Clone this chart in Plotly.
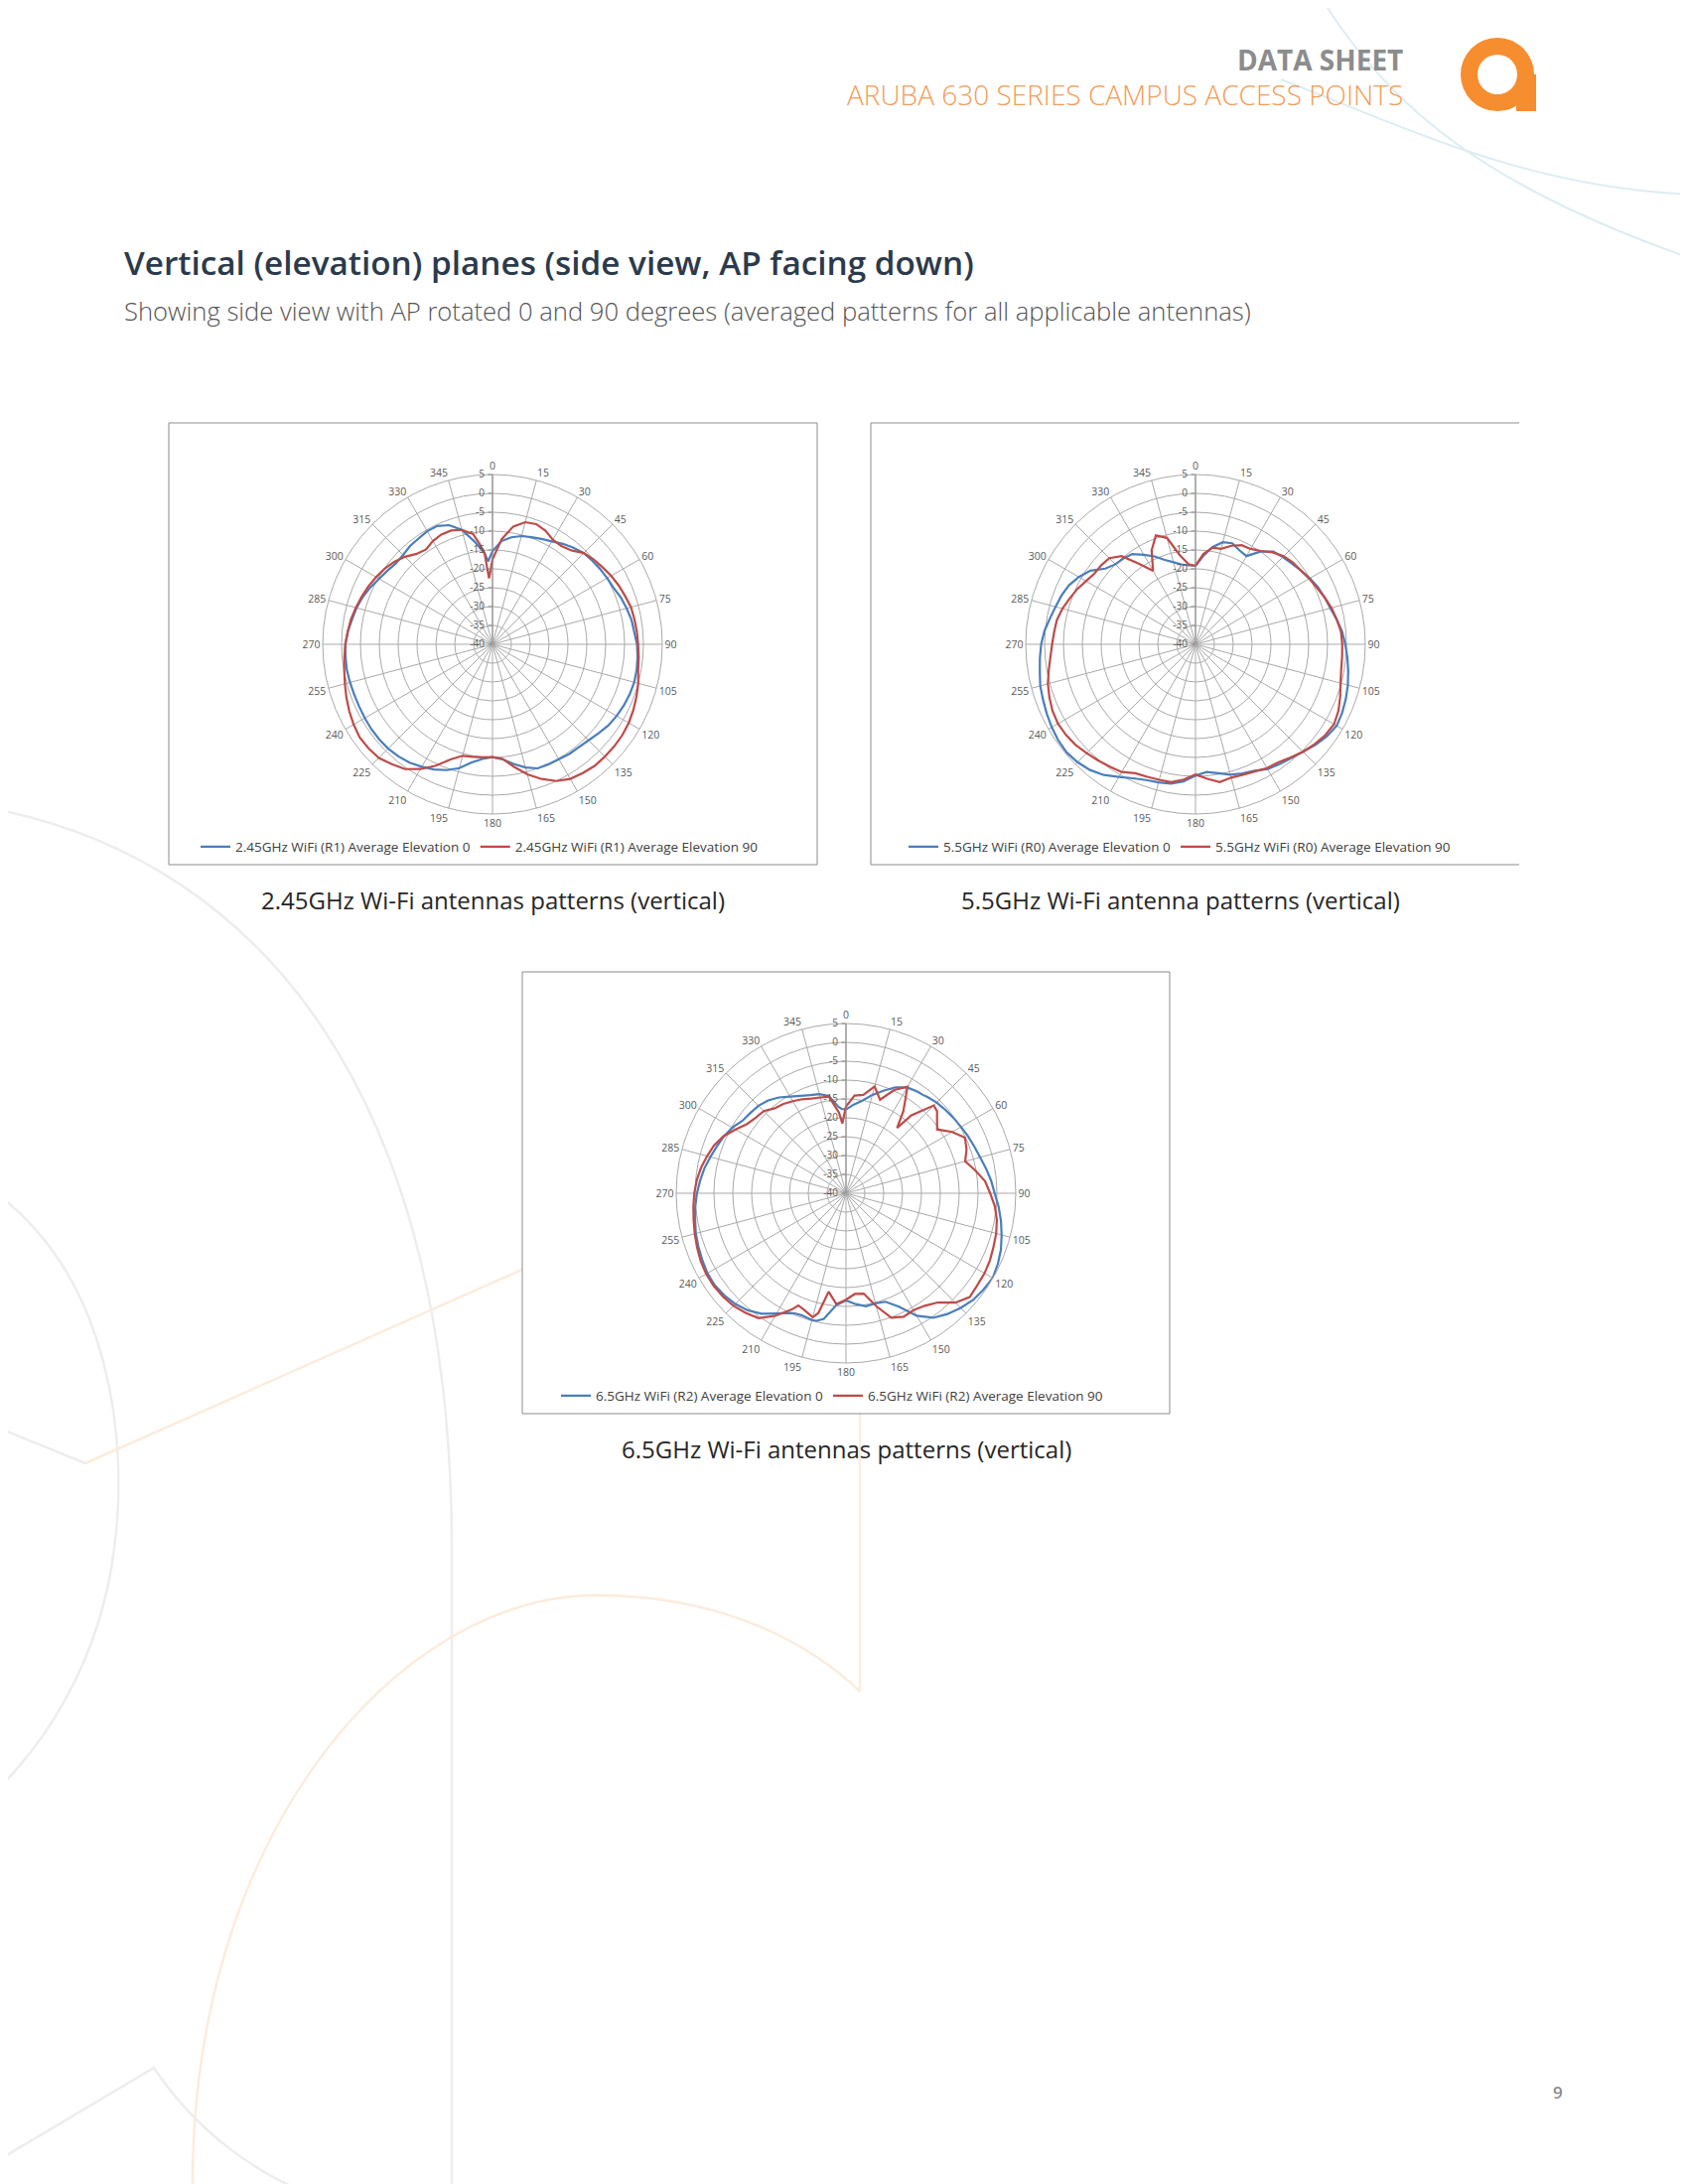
import plotly.graph_objects as go

# ---------------- data (dB vs angle) ----------------
ANGLE_TICKS = [0, 15, 30, 45, 60, 75, 90, 105, 120, 135, 150, 165, 180,
               195, 210, 225, 240, 255, 270, 285, 300, 315, 330, 345]
RADIAL_TICKS = [-40, -35, -30, -25, -20, -15, -10, -5, 0, 5]

# 2.45 GHz
theta_245 = [0, 5, 10, 15, 20, 25, 30, 35, 40, 45, 50, 55, 60, 65, 70, 75, 80, 85,
             90, 95, 100, 105, 110, 115, 120, 125, 130, 135, 140, 145, 150, 155, 160, 165,
             170, 175, 180, 185, 190, 195, 200, 205, 210, 215, 220, 225, 230, 235, 240, 245,
             250, 255, 260, 265, 270, 275, 280, 285, 290, 295, 300, 305, 310, 315, 320, 325,
             330, 335, 340, 345, 350, 353, 355, 357]
r_245_e0 = [-15.3, -12.5, -11.2, -10.3, -9.8, -9.2, -8.5, -7.5, -6.6, -5.8, -5.5, -5.2, -4.9, -4.6,
            -3.8, -3.2, -2.6, -2.3, -1.7, -1.4, -1.2, -1.1, -1.3, -1.6, -2.0, -2.5, -3.3, -4.0,
            -4.4, -4.5, -4.8, -4.9, -5.0, -6.2, -7.8, -9.4, -10.1, -9.5, -8.2, -6.0, -4.5, -3.4,
            -2.5, -1.7, -1.2, -0.9, -0.8, -0.8, -0.9, -1.0, -1.0, -0.9, -0.8, -0.9, -1.0, -1.5,
            -2.2, -2.7, -3.4, -4.3, -5.3, -6.0, -6.6, -6.5, -6.0, -5.8, -5.4, -5.4, -6.4, -8.6,
            -12.3, -14.5, -15.8, -18.0]
r_245_e90 = [-17.5, -12.0, -8.3, -6.5, -6.1, -6.8, -8.0, -8.2, -7.5, -5.8, -5.0, -4.4, -3.7, -3.1,
             -2.6, -2.0, -1.8, -1.6, -1.4, -1.1, -0.8, 0.0, 0.6, 1.2, 1.7, 2.0, 2.1, 2.1,
             2.1, 1.7, 1.2, 0.0, -2.0, -4.3, -7.0, -9.5, -10.1, -9.9, -9.7, -9.4, -7.5, -4.5,
             -1.8, 0.4, 1.5, 2.6, 2.9, 3.0, 2.5, 1.9, 1.2, 0.5, -0.1, -0.6, -1.0, -1.5,
             -1.9, -2.5, -3.1, -3.7, -4.4, -5.1, -6.0, -7.2, -8.7, -9.3, -8.4, -7.9, -7.9, -8.6,
             -10.3, -13.5, -15.8, -22.5]

# 5.5 GHz
theta_55 = [0, 5, 10, 15, 20, 25, 30, 35, 40, 45, 50, 55, 60, 65, 70, 75, 80, 85,
            90, 95, 100, 105, 110, 115, 120, 125, 130, 135, 140, 145, 150, 155, 160, 165,
            170, 175, 180, 185, 190, 195, 200, 205, 210, 215, 220, 225, 230, 235, 240, 245,
            250, 255, 260, 265, 270, 275, 280, 285, 290, 295, 300, 305, 310, 315, 320, 325,
            330, 335, 340, 345, 350, 355]
r_55_e0 = [-19.2, -16.5, -13.8, -12.0, -11.5, -12.5, -13.0, -10.0, -7.9, -7.3, -6.7, -5.9, -5.0, -4.2,
           -3.6, -3.0, -2.0, -1.0, -0.3, 0.4, 1.1, 1.8, 2.4, 2.9, 3.2, 2.5, 1.5, 0.3,
           -0.6, -1.2, -1.8, -3.0, -3.6, -4.2, -5.3, -6.0, -5.2, -3.5, -2.5, -2.1, -1.7, -0.8,
           0.6, 2.3, 3.5, 4.2, 4.6, 4.4, 4.0, 3.5, 3.0, 2.6, 1.9, 1.4, 0.9, 0.2,
           -0.8, -1.6, -2.2, -3.0, -4.3, -6.0, -8.8, -10.0, -10.3, -10.8, -12.6, -14.3, -16.2, -17.5,
           -18.5, -19.0]
r_55_e90 = [-19.2, -16.0, -14.0, -13.8, -12.2, -11.0, -10.8, -9.8, -8.2, -7.0, -6.3, -5.9, -5.2, -4.5,
            -3.6, -2.7, -2.0, -1.3, -1.1, -1.0, -0.8, -0.2, 0.8, 1.8, 2.4, 2.0, 1.2, 0.3,
            -0.8, -1.8, -2.1, -2.8, -3.2, -3.4, -2.9, -4.2, -5.5, -4.0, -2.9, -2.8, -2.6, -2.3,
            -0.9, -0.4, 0.2, 0.8, 1.5, 1.9, 2.1, 1.8, 1.2, 0.5, -0.5, -1.4, -2.0, -2.4,
            -2.7, -3.5, -4.5, -5.4, -6.5, -7.3, -7.4, -7.7, -9.5, -14.0, -17.5, -12.5, -9.3, -10.8,
            -16.0, -18.7]

# 6.5 GHz
theta_65 = [0, 5, 10, 15, 20, 25, 30, 35, 38, 40, 45, 48, 50, 55, 60, 65, 70, 75, 80, 85,
            90, 95, 100, 105, 110, 115, 120, 125, 130, 135, 140, 145, 150, 155, 160, 165,
            170, 175, 180, 185, 190, 193, 195, 200, 203, 205, 210, 215, 220, 225, 230, 235, 240, 245,
            250, 255, 260, 265, 270, 275, 280, 285, 290, 295, 300, 305, 310, 315, 320, 325,
            330, 335, 340, 345, 350, 355, 357]
r_65_e0 = [-17.8, -16.4, -15.1, -13.0, -11.1, -9.0, -7.6, -7.1, -6.9, -6.6, -6.0, -5.8, -5.6, -5.2,
           -4.8, -4.3, -3.8, -3.2, -2.3, -1.4, -0.6, 0.6, 1.7, 2.7, 3.7, 4.4, 4.9, 4.5,
           4.0, 3.0, 1.8, 0.3, -2.5, -6.8, -9.4, -9.8, -9.6, -10.5, -11.6, -10.2, -6.2, -5.3,
           -5.2, -5.6, -5.4, -5.0, -3.2, -1.0, 0.5, 1.5, 2.1, 2.5, 2.4, 2.0, 1.6, 1.2,
           0.6, 0.1, -0.5, -1.2, -1.9, -2.8, -3.6, -4.3, -5.2, -6.5, -6.9, -7.2, -7.9, -9.0,
           -10.4, -11.5, -12.3, -12.8, -13.8, -17.0, -17.6]
r_65_e90 = [-17.0, -14.0, -13.5, -10.7, -13.6, -9.8, -7.4, -13.5, -18.0, -13.0, -7.1, -7.5, -8.5, -10.5,
            -7.5, -5.2, -6.0, -7.3, -5.2, -3.0, -1.8, -0.4, 0.6, 1.2, 1.6, 2.1, 2.4, 2.5,
            2.8, 1.0, -2.2, -3.6, -4.2, -3.9, -4.9, -9.0, -13.0, -13.2, -11.8, -10.5, -13.5, -7.4,
            -6.0, -7.2, -7.7, -6.0, -2.5, 0.4, 1.4, 2.2, 2.6, 2.8, 2.8, 2.5, 2.0, 1.5,
            1.0, 0.6, 0.2, -0.3, -1.0, -1.9, -2.8, -4.2, -6.2, -8.0, -8.8, -9.2, -10.6, -11.1,
            -11.8, -12.5, -13.3, -13.7, -14.0, -18.5, -21.5]

LEG_245 = ["2.45GHz WiFi (R1) Average Elevation 0", "2.45GHz WiFi (R1) Average Elevation 90"]
LEG_55 = ["5.5GHz WiFi (R0) Average Elevation 0", "5.5GHz WiFi (R0) Average Elevation 90"]
LEG_65 = ["6.5GHz WiFi (R2) Average Elevation 0", "6.5GHz WiFi (R2) Average Elevation 90"]
CAPTIONS = ["2.45GHz Wi-Fi antennas patterns (vertical)",
            "5.5GHz Wi-Fi antenna patterns (vertical)",
            "6.5GHz Wi-Fi antennas patterns (vertical)"]

# ---------------- page geometry (pixels) ----------------
W, H = 1700, 2200
OFF = 8  # page body margin
BLUE, RED = "#4a7ebb", "#be4b48"
GRID = "#a9a9a9"
FONT = "Open Sans"
R_PX = 171


def px(x):
    return (x - OFF) / W


def py(y):
    return 1 - (y - OFF) / H


def P(x, y):
    return f"{px(x):.5f},{py(y):.5f}"


charts = [
    dict(cx=496, cy=649, theta=theta_245, r0=r_245_e0, r90=r_245_e90, names=LEG_245,
         legend="legend", lx=483, ly=853),
    dict(cx=1204, cy=649, theta=theta_55, r0=r_55_e0, r90=r_55_e90, names=LEG_55,
         legend="legend2", lx=1188, ly=853),
    dict(cx=852, cy=1202, theta=theta_65, r0=r_65_e0, r90=r_65_e90, names=LEG_65,
         legend="legend3", lx=838, ly=1406),
]

fig = go.Figure()
layout = {}
for i, c in enumerate(charts):
    sub = "polar" if i == 0 else f"polar{i+1}"
    th = c["theta"] + c["theta"][:1]
    for rr, col, nm in ((c["r0"], BLUE, c["names"][0]), (c["r90"], RED, c["names"][1])):
        fig.add_trace(go.Scatterpolar(
            r=rr + rr[:1], theta=th, mode="lines", name=nm, subplot=sub,
            line=dict(color=col, width=2.2), legend=c["legend"], hoverinfo="skip"))
    layout[sub] = dict(
        domain=dict(x=[px(c["cx"] - R_PX), px(c["cx"] + R_PX)],
                    y=[py(c["cy"] + R_PX), py(c["cy"] - R_PX)]),
        bgcolor="white",
        angularaxis=dict(rotation=90, direction="clockwise", tickmode="array",
                         tickvals=ANGLE_TICKS, ticktext=[str(a) for a in ANGLE_TICKS],
                         showgrid=True, gridcolor=GRID, gridwidth=1,
                         showline=True, linecolor=GRID, linewidth=1, ticks="",
                         tickfont=dict(family=FONT, size=10.5, color="#595959")),
        radialaxis=dict(range=[-40, 5], tickmode="array", tickvals=RADIAL_TICKS,
                        ticktext=[str(v) for v in RADIAL_TICKS], angle=90, tickangle=90,
                        side="counterclockwise", showgrid=True, gridcolor=GRID, gridwidth=1,
                        showline=True, linecolor="#8a8a8a", linewidth=1,
                        ticks="outside", ticklen=4, tickcolor="#8a8a8a",
                        tickfont=dict(family=FONT, size=10, color="#595959")),
    )
    layout[c["legend"]] = dict(orientation="h", x=px(c["lx"]), xanchor="center",
                               y=py(c["ly"]), yanchor="middle", bgcolor="rgba(0,0,0,0)",
                               font=dict(family=FONT, size=13.5, color="#404040"),
                               itemwidth=30, tracegroupgap=0)

shapes = []
DECO_GREY = "#ededed"
DECO_ORANGE = "#fcecdc"
DECO_BLUE = "#ddedf2"


def path(d, color, width):
    shapes.append(dict(type="path", xref="paper", yref="paper", path=d,
                       line=dict(color=color, width=width), layer="below"))


# faint background decoration
path(f"M{P(1332,0)} C{P(1400,110)} {P(1500,190)} {P(1708,262)}", DECO_BLUE, 2)
path(f"M{P(1290,80)} C{P(1420,130)} {P(1540,190)} {P(1708,196)}", DECO_BLUE, 2)
path(f"M{P(0,816)} C{P(260,870)} {P(455,1100)} {P(455,1560)} L{P(455,2210)}", DECO_GREY, 2.5)
path(f"M{P(0,1205)} C{P(110,1290)} {P(130,1450)} {P(115,1560)} C{P(100,1680)} {P(40,1760)} {P(0,1800)}",
     DECO_GREY, 2.5)
path(f"M{P(0,1439)} L{P(86,1474)}", DECO_GREY, 2.5)
path(f"M{P(86,1474)} L{P(528,1278)}", DECO_ORANGE, 2.5)
path(f"M{P(866,1424)} L{P(866,1704)}", DECO_ORANGE, 2.5)
path(f"M{P(194,2210)} C{P(190,1850)} {P(400,1607)} {P(601,1607)} "
     f"C{P(720,1607)} {P(810,1650)} {P(866,1704)}", DECO_ORANGE, 2.5)
path(f"M{P(0,2175)} L{P(155,2083)} C{P(200,2150)} {P(260,2190)} {P(312,2210)}", DECO_GREY, 2.5)

# chart frames (white fill)
for (x0, y0, x1, y1) in [(170, 426, 823, 871), (526, 979, 1178, 1424)]:
    shapes.append(dict(type="rect", xref="paper", yref="paper", x0=px(x0), x1=px(x1),
                       y0=py(y1), y1=py(y0), line=dict(color="#8c8c8c", width=1),
                       fillcolor="white", layer="below"))
shapes.append(dict(type="rect", xref="paper", yref="paper", x0=px(877), x1=px(1530),
                   y0=py(871), y1=py(426), line=dict(width=0), fillcolor="white", layer="below"))
path(f"M{P(1530,426)} L{P(877,426)} L{P(877,871)} L{P(1530,871)}", "#8c8c8c", 1)

# logo
ORANGE = "#f68d2e"
shapes.append(dict(type="circle", xref="paper", yref="paper", x0=px(1471), x1=px(1545),
                   y0=py(112), y1=py(38), fillcolor=ORANGE, line=dict(width=0)))
shapes.append(dict(type="rect", xref="paper", yref="paper", x0=px(1527), x1=px(1547),
                   y0=py(112), y1=py(75), fillcolor=ORANGE, line=dict(width=0)))
shapes.append(dict(type="circle", xref="paper", yref="paper", x0=px(1488), x1=px(1528),
                   y0=py(95), y1=py(55), fillcolor="white", line=dict(width=0)))

annotations = []


def text(x, y, s, size, color, anchor="left", weight=400):
    annotations.append(dict(x=px(x), y=py(y), xref="paper", yref="paper", text=s,
                            showarrow=False, xanchor=anchor, yanchor="middle",
                            font=dict(family=FONT, size=size, color=color, weight=weight)))


text(1415, 60, "DATA SHEET", 28, "#8c8c8c", "right", 700)
text(1415, 95, "ARUBA 630 SERIES CAMPUS ACCESS POINTS", 28, "#f39c55", "right", 300)
text(123, 264, "Vertical (elevation) planes (side view, AP facing down)", 33.3, "#2b3a4c",
     "left", 600)
text(123, 313, "Showing side view with AP rotated 0 and 90 degrees (averaged patterns for all "
     "applicable antennas)", 25.6, "#555555", "left", 300)
text(496, 906, CAPTIONS[0], 24, "#262626", "center")
text(1189, 906, CAPTIONS[1], 24, "#262626", "center")
text(852, 1459, CAPTIONS[2], 24, "#262626", "center")
text(1569, 2107, "9", 17, "#8c8c8c", "center", 600)

fig.update_layout(width=W, height=H, margin=dict(l=0, r=0, t=0, b=0),
                  paper_bgcolor="white", plot_bgcolor="white",
                  shapes=shapes, annotations=annotations, **layout)
fig.write_html("out.html")
